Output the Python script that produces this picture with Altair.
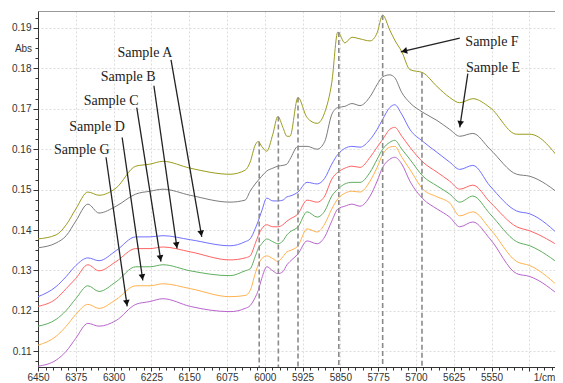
import math
import altair as alt
import pandas as pd

# ---------------- data ----------------
wavenumber = [6450, 6414, 6394, 6375, 6351, 6329, 6295, 6256, 6228, 6202, 6148, 6069,
              6039, 6029, 6019, 6013, 6006, 5996, 5984, 5974, 5964, 5956, 5950, 5934,
              5916, 5896, 5881, 5867, 5855, 5841, 5827, 5811, 5791, 5777, 5766, 5752,
              5742, 5728, 5712, 5686, 5658, 5633, 5613, 5587, 5553, 5500, 5474, 5408]

sample_a = [0.1235, 0.1260, 0.1285, 0.1312, 0.1331, 0.1324, 0.1349, 0.1383, 0.1383, 0.1386, 0.1376, 0.1361,
            0.1371, 0.1378, 0.1403, 0.1422, 0.1447, 0.1479, 0.1472, 0.1472, 0.1474, 0.1482, 0.1484, 0.1494,
            0.1518, 0.1514, 0.1528, 0.1563, 0.1587, 0.1602, 0.1607, 0.1605, 0.1624, 0.1649, 0.1674, 0.1703,
            0.1710, 0.1686, 0.1649, 0.1619, 0.1592, 0.1568, 0.1550, 0.1560, 0.1509, 0.1447, 0.1440, 0.1378]
sample_b = [0.1211, 0.1230, 0.1255, 0.1280, 0.1314, 0.1299, 0.1322, 0.1354, 0.1354, 0.1358, 0.1346, 0.1326,
            0.1331, 0.1336, 0.1366, 0.1386, 0.1403, 0.1413, 0.1408, 0.1408, 0.1413, 0.1422, 0.1427, 0.1440,
            0.1474, 0.1469, 0.1484, 0.1526, 0.1543, 0.1553, 0.1558, 0.1555, 0.1580, 0.1605, 0.1624, 0.1649,
            0.1654, 0.1632, 0.1605, 0.1568, 0.1543, 0.1521, 0.1501, 0.1511, 0.1469, 0.1408, 0.1398, 0.1354]
sample_c = [0.1162, 0.1179, 0.1201, 0.1230, 0.1262, 0.1248, 0.1272, 0.1309, 0.1309, 0.1314, 0.1299, 0.1287,
            0.1299, 0.1304, 0.1334, 0.1354, 0.1366, 0.1378, 0.1371, 0.1366, 0.1373, 0.1388, 0.1395, 0.1408,
            0.1445, 0.1432, 0.1447, 0.1484, 0.1501, 0.1514, 0.1518, 0.1518, 0.1543, 0.1575, 0.1600, 0.1617,
            0.1622, 0.1600, 0.1575, 0.1533, 0.1509, 0.1489, 0.1469, 0.1484, 0.1440, 0.1371, 0.1361, 0.1309]
sample_d = [0.1115, 0.1137, 0.1162, 0.1191, 0.1216, 0.1206, 0.1228, 0.1262, 0.1262, 0.1267, 0.1255, 0.1235,
            0.1238, 0.1250, 0.1292, 0.1314, 0.1329, 0.1336, 0.1329, 0.1322, 0.1334, 0.1346, 0.1349, 0.1361,
            0.1403, 0.1395, 0.1415, 0.1452, 0.1477, 0.1491, 0.1496, 0.1494, 0.1521, 0.1555, 0.1587, 0.1605,
            0.1607, 0.1580, 0.1550, 0.1501, 0.1482, 0.1467, 0.1435, 0.1445, 0.1403, 0.1322, 0.1312, 0.1250]
sample_g = [0.1063, 0.1078, 0.1100, 0.1132, 0.1169, 0.1162, 0.1176, 0.1216, 0.1223, 0.1230, 0.1211, 0.1198,
            0.1206, 0.1213, 0.1233, 0.1250, 0.1280, 0.1309, 0.1299, 0.1292, 0.1297, 0.1314, 0.1322, 0.1341,
            0.1373, 0.1366, 0.1383, 0.1422, 0.1452, 0.1459, 0.1464, 0.1459, 0.1484, 0.1521, 0.1555, 0.1575,
            0.1580, 0.1563, 0.1521, 0.1477, 0.1452, 0.1432, 0.1408, 0.1420, 0.1378, 0.1292, 0.1285, 0.1230]
sample_e = [0.1356, 0.1368, 0.1386, 0.1422, 0.1464, 0.1442, 0.1459, 0.1489, 0.1496, 0.1501, 0.1486, 0.1469,
            0.1474, 0.1496, 0.1514, 0.1523, 0.1533, 0.1546, 0.1553, 0.1558, 0.1560, 0.1563, 0.1575, 0.1607,
            0.1607, 0.1600, 0.1619, 0.1686, 0.1703, 0.1706, 0.1713, 0.1708, 0.1730, 0.1760, 0.1779, 0.1784,
            0.1777, 0.1740, 0.1715, 0.1691, 0.1671, 0.1649, 0.1632, 0.1639, 0.1600, 0.1538, 0.1533, 0.1482]
sample_f = [0.1378, 0.1388, 0.1413, 0.1452, 0.1494, 0.1486, 0.1504, 0.1558, 0.1563, 0.1570, 0.1553, 0.1538,
            0.1548, 0.1568, 0.1610, 0.1619, 0.1607, 0.1595, 0.1637, 0.1681, 0.1654, 0.1632, 0.1632, 0.1728,
            0.1678, 0.1664, 0.1691, 0.1765, 0.1890, 0.1863, 0.1877, 0.1873, 0.1868, 0.1888, 0.1932, 0.1895,
            0.1870, 0.1841, 0.1797, 0.1789, 0.1755, 0.1728, 0.1715, 0.1725, 0.1703, 0.1637, 0.1637, 0.1563]

series_names = ["Sample G", "Sample D", "Sample C", "Sample B", "Sample A", "Sample E", "Sample F"]
series_values = [sample_g, sample_d, sample_c, sample_b, sample_a, sample_e, sample_f]
series_colors = ["#b866cc", "#ffb24f", "#5fae5f", "#ff6464", "#7070ff", "#7c7c7c", "#9c9c1e"]

# dashed marker lines (wavenumber, absorbance where they start on Sample F)
marker_wn = [6011, 5973, 5934, 5853, 5766, 5688]
marker_top = [0.1619, 0.1681, 0.1728, 0.1890, 0.1932, 0.1789]

# annotations
label_text = ["Sample A", "Sample B", "Sample C", "Sample D", "Sample G", "Sample F", "Sample E"]
label_wn = [6238, 6271, 6305, 6333, 6363, 5549, 5547]
label_abs = [0.1839, 0.1779, 0.1720, 0.1654, 0.1597, 0.1866, 0.1802]
arrow_wn0 = [6186, 6220, 6254, 6283, 6315, 5613, 5597]
arrow_abs0 = [0.1821, 0.1757, 0.1703, 0.1629, 0.1580, 0.1875, 0.1787]
arrow_wn1 = [6125, 6174, 6206, 6242, 6273, 5730, 5613]
arrow_abs1 = [0.1383, 0.1354, 0.1322, 0.1275, 0.1211, 0.1841, 0.1654]

x_ticks = [6450, 6375, 6300, 6225, 6150, 6075, 6000, 5925, 5850, 5775, 5700, 5625, 5550, 5475]
y_ticks = [0.11, 0.12, 0.13, 0.14, 0.15, 0.16, 0.17, 0.18, 0.19]

X_DOMAIN = [5424, 6450]
Y_DOMAIN = [0.1061, 0.1942]
W, H = 517, 356

x_minor = [v for v in range(5430, 6451, 15)]
y_minor = [round(0.1075 + 0.0025 * i, 4) for i in range(35) if 0.1075 + 0.0025 * i <= 0.1942]

# ---------------- tables ----------------
rows = []
for name, vals in zip(series_names, series_values):
    for wn, v in zip(wavenumber, vals):
        rows.append({"wn": wn, "abs": v, "sample": name})
lines_df = pd.DataFrame(rows)

markers_df = pd.DataFrame({"wn": marker_wn, "top": marker_top, "bottom": [Y_DOMAIN[0]] * len(marker_wn)})
labels_df = pd.DataFrame({"text": label_text, "wn": label_wn, "abs": label_abs})

# arrow geometry (pixel ratios derived from the scales, for arrowhead rotation)
px_per_wn = W / (X_DOMAIN[1] - X_DOMAIN[0])
px_per_abs = H / (Y_DOMAIN[1] - Y_DOMAIN[0])
angles, head_wn, head_abs = [], [], []
for w0, a0, w1, a1 in zip(arrow_wn0, arrow_abs0, arrow_wn1, arrow_abs1):
    dx = -(w1 - w0) * px_per_wn
    dy = -(a1 - a0) * px_per_abs
    L = math.hypot(dx, dy)
    ux, uy = dx / L, dy / L
    angles.append(math.degrees(math.atan2(dx, -dy)) % 360)
    back = 3.5
    head_wn.append(w1 + back * ux / px_per_wn)
    head_abs.append(a1 + back * uy / px_per_abs)
arrows_df = pd.DataFrame({"wn0": arrow_wn0, "abs0": arrow_abs0, "wn1": arrow_wn1, "abs1": arrow_abs1,
                          "hwn": head_wn, "habs": head_abs, "angle": angles})

xscale = alt.Scale(domain=X_DOMAIN, reverse=True, nice=False, zero=False)
yscale = alt.Scale(domain=Y_DOMAIN, nice=False, zero=False)

AX_FONT = "Liberation Sans"

main_x_axis = alt.Axis(orient="bottom", values=x_ticks, format="d", title="1/cm",
                       labelExpr="datum.value == 5475 ? '' : datum.label",
                       titleX=506, titleY=5, titleBaseline="top", titleAlign="center",
                       titleFontWeight="normal", titleFontSize=10, titleFont=AX_FONT, titleColor="#333",
                       labelFont=AX_FONT, labelFontSize=10, labelColor="#333", labelPadding=1,
                       tickSize=4, tickColor="#333", domainColor="#333",
                       grid=True, gridColor="#dcdcdc", gridDash=[2, 2], labelFlush=False)
main_y_axis = alt.Axis(orient="left", values=y_ticks, format=".2f", title="Abs",
                       titleAngle=0, titleX=-15, titleY=37, titleAlign="center", titleBaseline="middle",
                       titleFontWeight="normal", titleFontSize=10, titleFont=AX_FONT, titleColor="#333",
                       labelFont=AX_FONT, labelFontSize=10, labelColor="#333", labelPadding=2,
                       tickSize=5, tickColor="#333", domainColor="#333",
                       grid=True, gridColor="#dcdcdc", gridDash=[2, 2])

lines = alt.Chart(lines_df).mark_line(strokeWidth=1.0, interpolate="monotone", clip=True).encode(
    x=alt.X("wn:Q", scale=xscale, axis=main_x_axis),
    y=alt.Y("abs:Q", scale=yscale, axis=main_y_axis),
    color=alt.Color("sample:N", scale=alt.Scale(domain=series_names, range=series_colors), legend=None),
    detail="sample:N",
)

minor = alt.Chart(lines_df).mark_point(opacity=0).encode(
    x=alt.X("wn:Q", scale=xscale,
            axis=alt.Axis(orient="bottom", values=x_minor, labels=False, tickSize=3, tickColor="#333",
                          domain=False, grid=False, title=None)),
    y=alt.Y("abs:Q", scale=yscale,
            axis=alt.Axis(orient="left", values=y_minor, labels=False, tickSize=3, tickColor="#333",
                          domain=False, grid=False, title=None)),
)

topline = alt.Chart(lines_df).mark_point(opacity=0).encode(
    x=alt.X("wn:Q", scale=xscale,
            axis=alt.Axis(orient="top", labels=False, ticks=False, grid=False, domainColor="#999",
                          title=None)),
    y=alt.Y("abs:Q", scale=yscale, axis=None),
)

markers = alt.Chart(markers_df).mark_rule(strokeDash=[5, 3], color="#8a8a8a", strokeWidth=1.6).encode(
    x=alt.X("wn:Q", scale=xscale, axis=None),
    y=alt.Y("top:Q", scale=yscale, axis=None),
    y2="bottom:Q",
)

arrow_lines = alt.Chart(arrows_df).mark_rule(color="#222", strokeWidth=1.3).encode(
    x=alt.X("wn0:Q", scale=xscale, axis=None),
    y=alt.Y("abs0:Q", scale=yscale, axis=None),
    x2="wn1:Q",
    y2="abs1:Q",
)

arrow_heads = alt.Chart(arrows_df).mark_point(shape="triangle-up", filled=True, color="#111",
                                              opacity=1, size=45).encode(
    x=alt.X("hwn:Q", scale=xscale, axis=None),
    y=alt.Y("habs:Q", scale=yscale, axis=None),
    angle=alt.Angle("angle:Q", scale=None),
)

labels = alt.Chart(labels_df).mark_text(font="Liberation Serif", fontSize=14, color="#222",
                                        align="center", baseline="middle").encode(
    x=alt.X("wn:Q", scale=xscale, axis=None),
    y=alt.Y("abs:Q", scale=yscale, axis=None),
    text="text:N",
)

chart = alt.layer(lines, minor, topline, markers, arrow_lines, arrow_heads, labels).resolve_axis(
    x="independent", y="independent"
).properties(
    width=W, height=H,
    padding={"left": 30, "top": 3, "right": 0, "bottom": 16},
    autosize=alt.AutoSizeParams(type="none"),
).configure_view(stroke=None)

chart.save("out.html", embed_options={"renderer": "svg", "actions": False})
